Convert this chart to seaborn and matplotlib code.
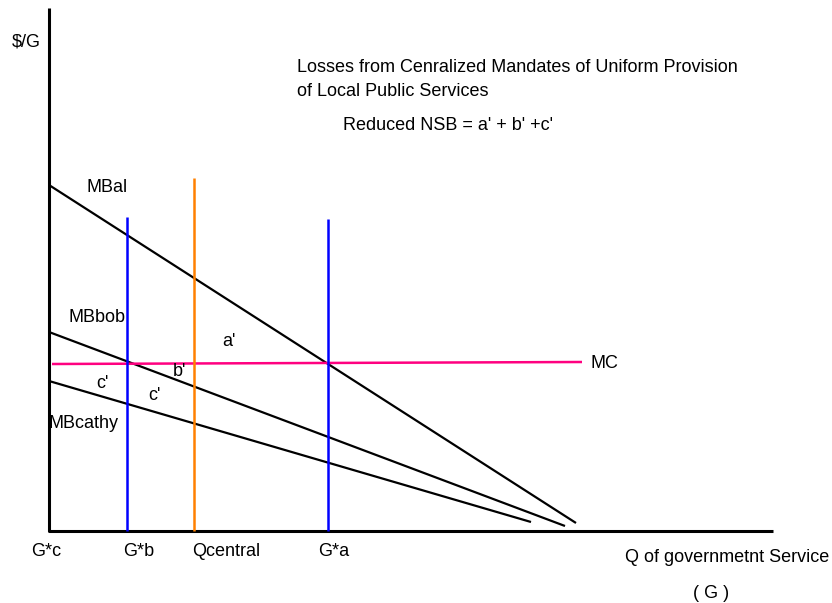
import matplotlib
matplotlib.use("Agg")
import matplotlib.pyplot as plt
import seaborn as sns
import pandas as pd

sns.set_theme(style="white")
plt.rcParams['font.family'] = ['Liberation Sans', 'DejaVu Sans']

# Diagram geometry in canvas units (x right, y down)
axis_x = [49, 49, 773]
axis_y = [8, 531, 531]

curve_names = ["MBal", "MBbob", "MBcathy"]
curve_x = [[49, 576], [49, 565], [49, 531]]
curve_y = [[185, 523], [332, 526], [381, 522]]

mc_x = [52, 582]
mc_y = [364, 362]

vline_names = ["G*b", "Qcentral", "G*a"]
vline_x = [127, 194, 328]
vline_top = [217, 178, 219]
vline_colors = ["#0000ff", "#ff8000", "#0000ff"]

labels = [
    ("$/G", 12, 42),
    ("Losses from Cenralized Mandates of Uniform Provision", 297, 68),
    ("of Local Public Services", 297, 91),
    ("Reduced NSB = a' + b' +c'", 343, 125),
    ("MBal", 86, 188),
    ("MBbob", 69, 318),
    ("a'", 222, 341),
    ("b'", 173, 372),
    ("c'", 96, 383),
    ("c'", 148, 395),
    ("MBcathy", 49, 423),
    ("MC", 590, 364),
    ("G*c", 31, 551),
    ("G*b", 123, 551),
    ("Qcentral", 192, 551),
    ("G*a", 318, 551),
    ("Q of governmetnt Service", 625, 558),
    ("( G )", 693, 593),
]

fig = plt.figure(figsize=(8.32, 6.03), dpi=100)
ax = fig.add_axes([0, 0, 1, 1])
ax.set_xlim(0, 832)
ax.set_ylim(603, 0)
ax.axis("off")

def seg(xs, ys, color, lw):
    df = pd.DataFrame({"x": xs, "y": ys, "o": range(len(xs))})
    sns.lineplot(data=df, x="x", y="y", units="o", estimator=None, sort=False,
                 color=color, linewidth=lw, ax=ax, legend=False)
    # units per point would break the line; draw path with a single unit
    
def path(xs, ys, color, lw):
    df = pd.DataFrame({"x": xs, "y": ys, "u": [0] * len(xs)})
    sns.lineplot(data=df, x="x", y="y", units="u", estimator=None, sort=False,
                 color=color, linewidth=lw, ax=ax, legend=False,
                 solid_capstyle="butt")

path(axis_x, axis_y, "black", 2.2)

for name, xs, ys in zip(curve_names, curve_x, curve_y):
    path(xs, ys, "black", 1.6)

path(mc_x, mc_y, "#ff0080", 1.8)

for x, top, c in zip(vline_x, vline_top, vline_colors):
    path([x, x], [top, 531], c, 1.8)

for txt, x, y in labels:
    ax.text(x, y, txt, fontsize=13, color="black", ha="left", va="center")

fig.savefig("out.png", dpi=100)
